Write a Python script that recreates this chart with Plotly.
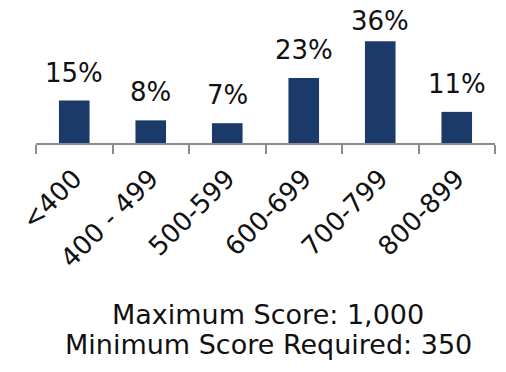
import plotly.graph_objects as go

# Score bands and share of test takers (%)
categories = ["<400", "400 - 499", "500-599", "600-699", "700-799", "800-899"]
shares = [15, 8, 7, 23, 36, 11]
notes = ["Maximum Score: 1,000", "Minimum Score Required: 350"]

FONT = "DejaVu Sans"
BAR = "#1B3A69"
AXIS = "#8C8C8C"

W, H = 506, 372
M_L, M_R, M_T, M_B = 36, 11, 10, 229
Y_MAX = 47
PLOT_H = H - M_T - M_B

fig = go.Figure(
    go.Bar(
        x=categories,
        y=shares,
        marker=dict(color=BAR, line=dict(width=0)),
        width=0.4,
        hoverinfo="x+y",
    )
)

# Value labels above each bar; kept inside the top edge of the chart
LABEL_GAP = 11
LABEL_BOX = 38
for cat, v in zip(categories, shares):
    bar_top = M_T + PLOT_H * (1 - v / Y_MAX)
    shift = min(LABEL_GAP, bar_top - LABEL_BOX)
    fig.add_annotation(
        x=cat,
        y=v,
        text=f"{v}%",
        showarrow=False,
        xanchor="center",
        yanchor="bottom",
        yshift=shift,
        font=dict(family=FONT, size=26, color="#111111"),
    )

fig.update_layout(
    width=W,
    height=H,
    margin=dict(l=M_L, r=M_R, t=M_T, b=M_B),
    paper_bgcolor="white",
    plot_bgcolor="white",
    showlegend=False,
    font=dict(family=FONT, color="#111111"),
)

fig.update_xaxes(
    type="category",
    range=[-0.5, 5.5],
    showline=True,
    linecolor=AXIS,
    linewidth=2,
    ticks="outside",
    tickson="boundaries",
    ticklen=9,
    tickwidth=2,
    tickcolor=AXIS,
    tickangle=-45,
    ticklabelstandoff=8,
    tickfont=dict(family=FONT, size=26, color="#111111"),
    showgrid=False,
)
fig.update_yaxes(visible=False, range=[0, Y_MAX])

note_y = [315, 344]
for line, ypx in zip(notes, note_y):
    fig.add_annotation(
        text=line,
        xref="paper",
        yref="paper",
        x=(268 - M_L) / (W - M_L - M_R),
        y=(H - M_B - ypx) / PLOT_H,
        xanchor="center",
        yanchor="middle",
        showarrow=False,
        font=dict(family=FONT, size=27, color="#111111"),
    )

fig.write_html("out.html")
